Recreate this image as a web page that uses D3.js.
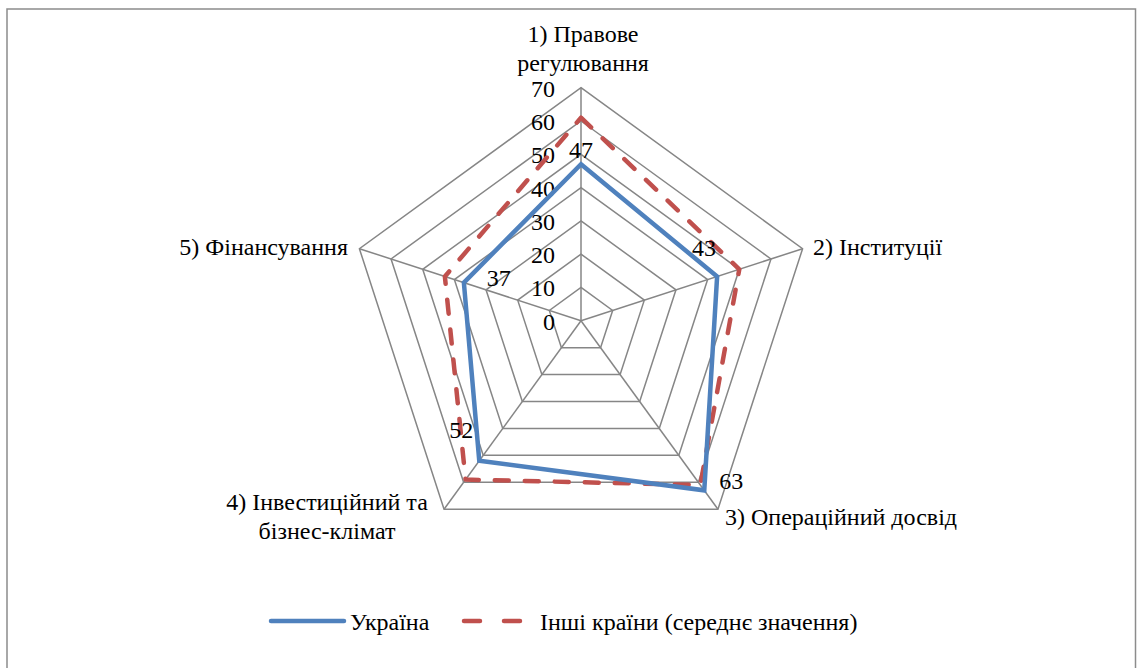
<!DOCTYPE html>
<html><head><meta charset="utf-8">
<script src="https://cdn.jsdelivr.net/npm/d3@7"></script>
</head><body style="margin:0;background:#fff"><svg id="c" width="1137" height="668" style="display:block"></svg>
<script>
const categories = [["1) Правове","регулювання"],["2) Інституції"],["3) Операційний досвід"],["4) Інвестиційний та","бізнес-клімат"],["5) Фінансування"]];
const ukraine = [47, 43, 63, 52, 37];
const others = [61, 50, 61, 59, 43];
const ticks = [0,10,20,30,40,50,60,70];
const seriesNames = ["Україна","Інші країни (середнє значення)"];

const FONT = "Tinos, 'Liberation Serif', 'Times New Roman'";
const FS = 24, FSN = 24;
const svg = d3.select("#c");
const txt = (sel, fs) => sel.append("text").attr("font-family", FONT)
  .attr("font-size", fs || FS).attr("fill","#000");

svg.append("rect").attr("x",7).attr("y",9).attr("width",1128.5).attr("height",670)
  .attr("fill","#fff").attr("stroke","#8c8c8c").attr("stroke-width",1.5);

const cx = 581, cy = 320.7, R = 233;
const r = d3.scaleLinear().domain([0,70]).range([0,R]);
const n = categories.length;
const ang = i => -Math.PI/2 + i*2*Math.PI/n;
const pt = (i,v) => [cx + r(v)*Math.cos(ang(i)), cy + r(v)*Math.sin(ang(i))];

const g = svg.append("g");
ticks.slice(1).forEach(t=>{
  g.append("path").attr("d", d3.line()(d3.range(n).map(i=>pt(i,t)))+"Z")
   .attr("fill","none").attr("stroke","#868686").attr("stroke-width",1.5);
});
d3.range(n).forEach(i=>{
  const [x,y]=pt(i,70);
  g.append("line").attr("x1",cx).attr("y1",cy).attr("x2",x).attr("y2",y)
   .attr("stroke","#868686").attr("stroke-width",1.5);
});
ticks.forEach(t=>{
  txt(g, FSN).attr("x",cx-26).attr("y",cy - r(t)+9).attr("text-anchor","end").text(t);
});
const line = d3.line();
g.append("path").attr("d", line(others.map((v,i)=>pt(i,v)))+"Z")
  .attr("fill","none").attr("stroke","#C0504D").attr("stroke-width",4.5)
  .attr("stroke-dasharray","14,16").attr("stroke-linecap","round").attr("stroke-linejoin","round");
g.append("path").attr("d", line(ukraine.map((v,i)=>pt(i,v)))+"Z")
  .attr("fill","none").attr("stroke","#4F81BD").attr("stroke-width",4.5).attr("stroke-linejoin","miter");

const dlOff = [[0,-6],[-13,-20],[27,-1],[-18,-23],[35,3]];
ukraine.forEach((v,i)=>{
  const [x,y]=pt(i,v);
  txt(g, FSN).attr("x",x+dlOff[i][0]).attr("y",y+dlOff[i][1]).attr("text-anchor","middle").text(v);
});

const catPos = [[583,42,"middle"],[813,255,"start"],[725,525,"start"],[327,510,"middle"],[348,255,"end"]];
categories.forEach((lines,i)=>{
  const t = txt(g).attr("x",catPos[i][0]).attr("y",catPos[i][1]).attr("text-anchor",catPos[i][2]);
  lines.forEach((l,k)=>t.append("tspan").attr("x",catPos[i][0]).attr("dy",k?29:0).text(l));
});

const lg = svg.append("g");
lg.append("line").attr("x1",271).attr("x2",344).attr("y1",621).attr("y2",621)
  .attr("stroke","#4F81BD").attr("stroke-width",4.5).attr("stroke-linecap","round");
txt(lg).attr("x",350).attr("y",630).text(seriesNames[0]);
lg.append("line").attr("x1",464).attr("x2",522).attr("y1",621).attr("y2",621)
  .attr("stroke","#C0504D").attr("stroke-width",4.5).attr("stroke-linecap","round").attr("stroke-dasharray","16,24");
txt(lg).attr("x",540).attr("y",630).text(seriesNames[1]);
</script></body></html>
